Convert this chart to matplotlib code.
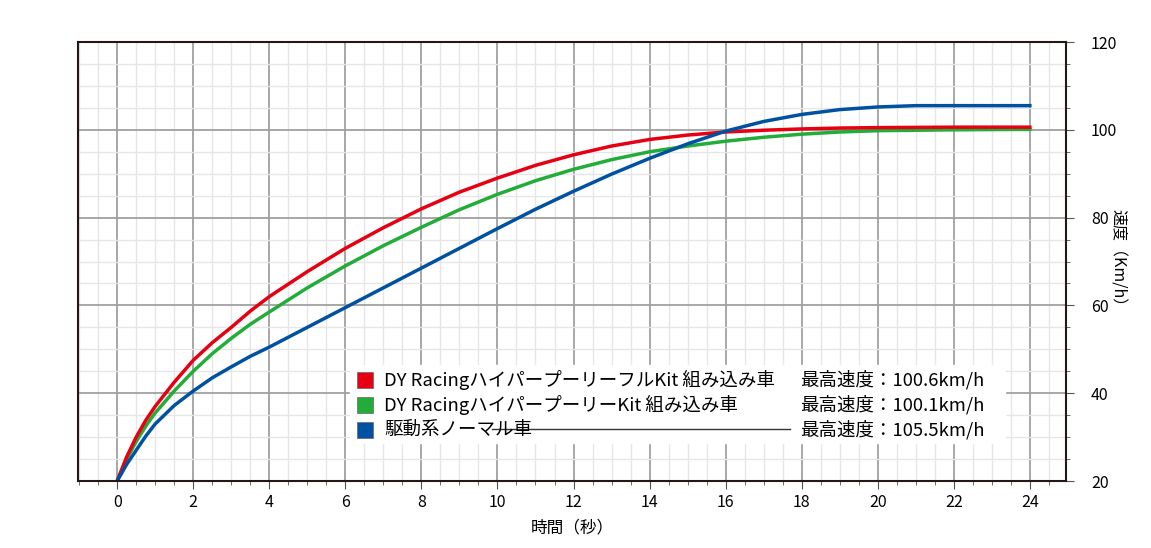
import matplotlib
matplotlib.use("Agg")
import matplotlib.pyplot as plt
from matplotlib.ticker import MultipleLocator
from matplotlib.patches import Rectangle
from matplotlib.lines import Line2D

plt.rcParams["font.family"] = "Noto Sans CJK JP"

t_red = [0,0.25,0.5,0.75,1,1.5,2,2.5,3,3.5,4,5,6,7,8,9,10,11,12,13,14,15,16,17,18,19,20,22,24]
red = [20,25.5,30,33.8,37,42.5,47.5,51.5,55,58.7,62,67.7,73,77.7,82,85.8,89,91.9,94.3,96.3,97.8,98.8,99.5,99.9,100.2,100.4,100.5,100.6,100.6]
t_green = t_red
green = [20,25,29,32.5,35.5,40.5,45,49,52.5,55.7,58.5,64,69,73.6,77.8,81.8,85.3,88.4,91,93.2,95,96.3,97.4,98.3,99,99.5,99.8,100,100.1]
t_blue = [0,0.25,0.5,0.75,1,1.5,2,2.5,3,3.5,4,5,6,7,8,9,10,11,12,13,14,15,16,17,18,19,20,21,24]
blue = [20,23.8,27,30.2,33,37.2,40.5,43.5,46,48.4,50.5,55,59.5,64,68.5,73,77.5,81.9,86,89.9,93.5,96.8,99.7,101.9,103.5,104.6,105.2,105.5,105.5]

names = ["DY RacingハイパープーリーフルKit 組み込み車",
         "DY RacingハイパープーリーKit 組み込み車",
         "駆動系ノーマル車"]
maxes = ["最高速度：100.6km/h", "最高速度：100.1km/h", "最高速度：105.5km/h"]
colors = ["#e60012", "#22ac38", "#0051a2"]

fig = plt.figure(figsize=(11.51, 5.48), dpi=100)
ax = fig.add_axes([78/1151, 1-481/548, (1066-78)/1151, (481-42)/548])
ax.set_xlim(-1.03, 24.95)
ax.set_ylim(20, 120)
ax.xaxis.set_major_locator(MultipleLocator(2))
ax.xaxis.set_minor_locator(MultipleLocator(0.5))
ax.yaxis.set_major_locator(MultipleLocator(20))
ax.yaxis.set_minor_locator(MultipleLocator(5))
ax.grid(which="minor", color="#e6e6e6", lw=1)
ax.grid(which="major", color="#a0a0a0", lw=1.3)
ax.set_axisbelow(True)
for s in ax.spines.values():
    s.set_color("#231815"); s.set_linewidth(1.5)
ax.yaxis.tick_right()
ax.tick_params(which="both", direction="out", color="#555555", labelsize=11.5)
ax.tick_params(which="major", length=6)
ax.tick_params(which="minor", length=3)
ax.tick_params(axis="y", pad=12)

for x, y, c in [(t_green, green, colors[1]), (t_red, red, colors[0]), (t_blue, blue, colors[2])]:
    ax.plot(x, y, color=c, lw=2.5, solid_joinstyle="round")

ax.set_xlabel("時間（秒）", fontsize=12, labelpad=6)
fig.text(1117/1151, 1-262/548, "速度（Km/h）", rotation=-90, fontsize=11.5, ha="center", va="center")

fig.patches.append(Rectangle((350/1151, 1-443/548), 655/1151, 78/548, transform=fig.transFigure, color="white", zorder=3))
ys = [380, 405, 430]
for i in range(3):
    y = 1 - ys[i]/548
    fig.patches.append(Rectangle((357/1151, y-8/548), 16/1151, 16/548, transform=fig.transFigure,
                                 facecolor=colors[i], edgecolor="#666666", lw=0.5, zorder=4))
    fig.text(384/1151, y, names[i], fontsize=13.3, va="center", zorder=5)
    fig.text(800/1151, y, maxes[i], fontsize=13.3, va="center", zorder=5)
fig.lines.append(Line2D([492/1151, 790/1151], [1-429/548]*2, transform=fig.transFigure, color="#333333", lw=1, zorder=5))

fig.savefig("out.png", dpi=100)
